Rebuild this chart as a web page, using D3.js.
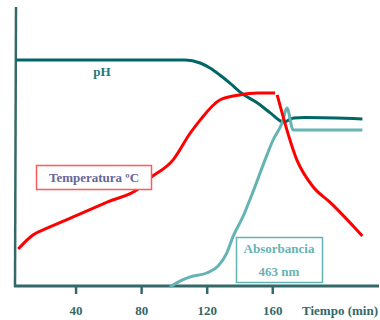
<!DOCTYPE html>
<html>
<head>
<meta charset="utf-8">
<script src="https://cdn.jsdelivr.net/npm/d3@7"></script>
<style>
  body { margin: 0; background: #fff; }
  text { font-family: "Liberation Serif", "Times New Roman", serif; font-weight: bold; }
</style>
</head>
<body>
<div class="chart"></div>
<script>
// tick labels of the time axis (min)
var timeTicks = [40, 80, 120, 160];

// pH curve (time in min, relative height 0-100)
var phTime  = [4, 107, 116, 122, 128, 134, 142, 151, 159, 167, 173, 180, 215];
var phValue = [81.1, 81.1, 80, 78.2, 75.7, 72.9, 68.9, 65.7, 62.1, 58.9, 60.4, 60.5, 60];

// temperature curve, null marks the small break in the line
var tempTime  = [5, 14, 23, 40, 60, 79, 84, 99.5, 110, 116, 128, 140, 151, 161.7, 162, 163, 175, 185, 195, 215];
var tempValue = [13.6, 18.6, 21.1, 25.4, 30.5, 35.4, 38.2, 45.4, 55, 59.6, 66.8, 68.6, 69.3, 69.3, null, 68.6, 45.4, 35.7, 30.4, 18.2];

// absorbance at 463 nm
var absTime  = [97.6, 103.7, 110, 120, 127, 132, 136, 142, 148, 155.6, 160.5, 166, 169, 172.7, 215];
var absValue = [0, 2.1, 3.6, 5, 7.5, 11.8, 17.9, 25, 33.6, 45.4, 52.5, 58.6, 63.9, 56.1, 56.1];

var svg_w = 380;
var svg_h = 320;
var svg = d3.select("div.chart").append("svg")
  .attr("width", svg_w)
  .attr("height", svg_h);

var x = d3.scaleLinear().domain([0, 225]).range([10, 378.8]);
var y = d3.scaleLinear().domain([0, 100]).range([287, 7]);

var axisColor = "#356868";

// y axis (no ticks)
svg.append("line")
  .attr("x1", 16).attr("y1", 7)
  .attr("x2", 15).attr("y2", 287)
  .attr("stroke", axisColor)
  .attr("stroke-width", 2.5);

// x axis
var xAxis = d3.axisBottom(x)
  .tickValues(timeTicks)
  .tickSize(8)
  .tickPadding(12)
  .tickFormat(d3.format("d"));

var gx = svg.append("g")
  .attr("transform", "translate(0,286)")
  .call(xAxis);
gx.select(".domain").remove();
gx.selectAll(".tick line").attr("stroke", axisColor).attr("stroke-width", 2.5);
gx.selectAll(".tick text")
  .attr("fill", axisColor)
  .attr("font-size", 13)
  .attr("font-family", "Liberation Serif, serif")
  .attr("font-weight", "bold");

svg.append("line")
  .attr("x1", 14).attr("y1", 286)
  .attr("x2", 379).attr("y2", 286)
  .attr("stroke", axisColor)
  .attr("stroke-width", 3);

svg.append("text")
  .attr("x", 378).attr("y", 315)
  .attr("text-anchor", "end")
  .attr("font-size", 13)
  .attr("fill", axisColor)
  .text("Tiempo (min)");

function makeLine(times, values) {
  return d3.line()
    .defined(function(d, i) { return values[i] != null; })
    .x(function(d, i) { return x(times[i]); })
    .y(function(d, i) { return y(values[i]); })
    .curve(d3.curveMonotoneX)(times);
}

// pH
svg.append("path")
  .attr("d", makeLine(phTime, phValue))
  .attr("fill", "none")
  .attr("stroke", "#006666")
  .attr("stroke-width", 3);

// absorbance
svg.append("path")
  .attr("d", makeLine(absTime, absValue))
  .attr("fill", "none")
  .attr("stroke", "#66b3b3")
  .attr("stroke-width", 3);

// temperature
svg.append("path")
  .attr("d", makeLine(tempTime, tempValue))
  .attr("fill", "none")
  .attr("stroke", "#ff0000")
  .attr("stroke-width", 3);

// labels
svg.append("text")
  .attr("x", 102).attr("y", 76)
  .attr("text-anchor", "middle")
  .attr("font-size", 13)
  .attr("fill", "#1a7a7a")
  .text("pH");

svg.append("rect")
  .attr("x", 36.5).attr("y", 165.5)
  .attr("width", 115).attr("height", 24)
  .attr("fill", "#fff")
  .attr("stroke", "#ff5a5a")
  .attr("stroke-width", 1.5);
svg.append("text")
  .attr("x", 94).attr("y", 182)
  .attr("text-anchor", "middle")
  .attr("font-size", 13)
  .attr("fill", "#666699")
  .text("Temperatura ºC");

svg.append("rect")
  .attr("x", 236.5).attr("y", 237.5)
  .attr("width", 86).attr("height", 45)
  .attr("fill", "#fff")
  .attr("stroke", "#66b3b3")
  .attr("stroke-width", 1.5);
svg.append("text")
  .attr("x", 279).attr("y", 253)
  .attr("text-anchor", "middle")
  .attr("font-size", 13)
  .attr("fill", "#66b3b3")
  .text("Absorbancia");
svg.append("text")
  .attr("x", 279).attr("y", 276)
  .attr("text-anchor", "middle")
  .attr("font-size", 13)
  .attr("fill", "#66b3b3")
  .text("463 nm");
</script>
</body>
</html>
